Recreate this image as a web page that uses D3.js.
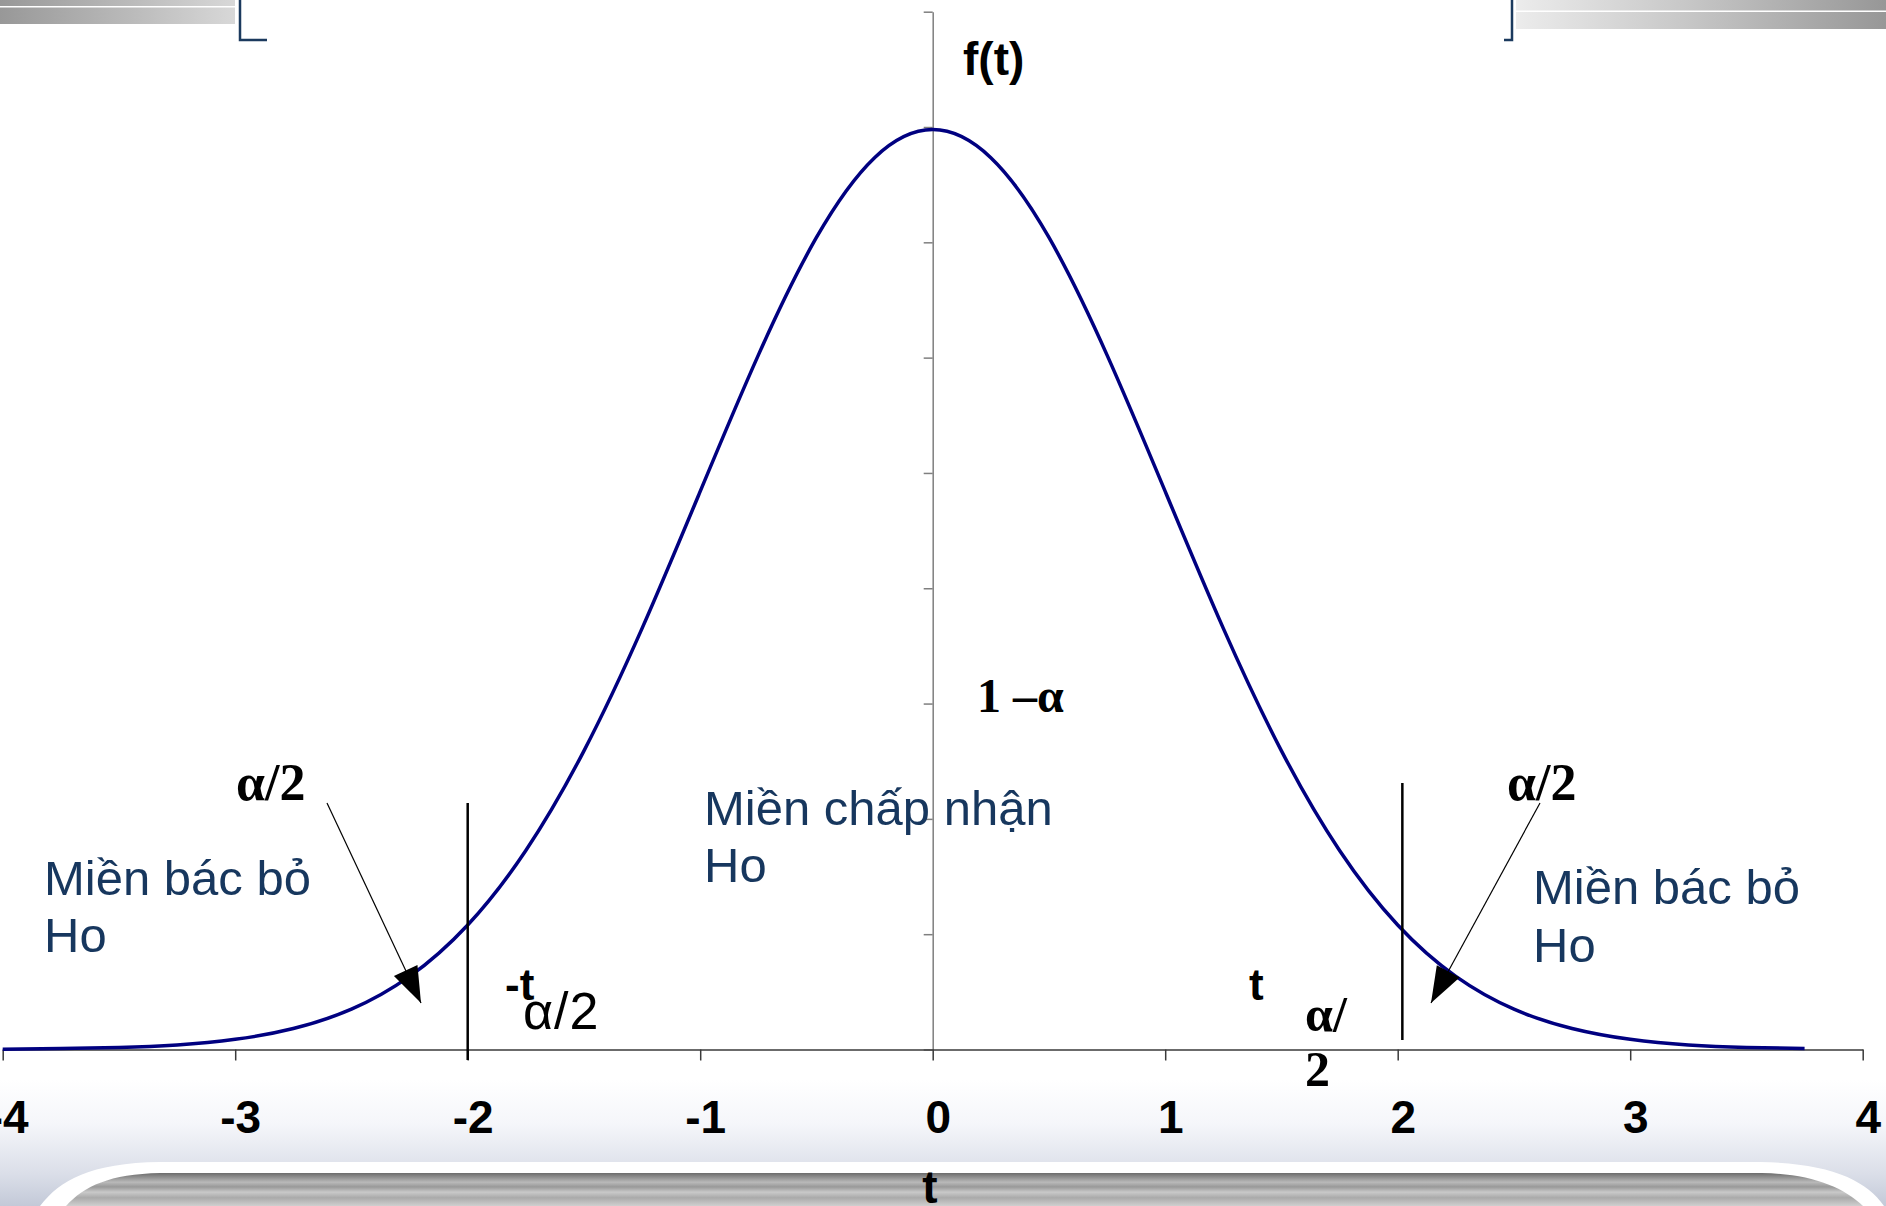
<!DOCTYPE html>
<html>
<head>
<meta charset="utf-8">
<script src="https://cdn.jsdelivr.net/npm/d3@7"></script>
<style>
  body { margin: 0; background: #fff; }
  svg { display: block; }
</style>
</head>
<body>
<div id="container"></div>
<script>
// density curve
const tValues = [-4, -3.75, -3.5, -3.25, -3, -2.75, -2.5, -2.25, -2, -1.75, -1.5, -1.25, -1, -0.75, -0.5, -0.25,
  0, 0.25, 0.5, 0.75, 1, 1.25, 1.5, 1.75, 2, 2.25, 2.5, 2.75, 3, 3.25, 3.5, 3.75];
const fValues = [0.0001, 0.0004, 0.0009, 0.002, 0.0044, 0.0091, 0.0175, 0.0317, 0.054, 0.0863, 0.1295, 0.1826, 0.242, 0.3011, 0.3521, 0.3867,
  0.3989, 0.3867, 0.3521, 0.3011, 0.242, 0.1826, 0.1295, 0.0863, 0.054, 0.0317, 0.0175, 0.0091, 0.0044, 0.002, 0.0009, 0.0004];
const xTicks = [-4, -3, -2, -1, 0, 1, 2, 3, 4];
const yTicks = [0, 0.05, 0.1, 0.15, 0.2, 0.25, 0.3, 0.35, 0.4, 0.45];
// critical values
const critLeft = -2, critRight = 2.02;

const W = 1886, H = 1206;
const svg = d3.select("#container").append("svg")
    .attr("width", W).attr("height", H);

const defs = svg.append("defs");
function grad(id, x2, y2, stops) {
  const g = defs.append("linearGradient").attr("id", id)
      .attr("x1", 0).attr("y1", 0).attr("x2", x2).attr("y2", y2);
  stops.forEach(s => g.append("stop").attr("offset", s[0]).attr("stop-color", s[1]));
}
grad("barL", 1, 0, [[0, "#989898"], [0.6, "#bdbdbd"], [1, "#d8d8d8"]]);
grad("barR", 1, 0, [[0, "#ececec"], [0.45, "#c8c8c8"], [1, "#979797"]]);
grad("band", 0, 1, [[0, "#ffffff"], [0.35, "#f5f6fa"], [0.75, "#dadee8"], [1, "#c3c9d8"]]);
grad("panel", 0, 1, [[0, "#6c6c6c"], [0.12, "#8e8e8e"], [0.28, "#b9b9b9"], [0.42, "#999"], [0.58, "#c9c9c9"],
  [0.75, "#aaaaaa"], [1, "#cfcfcf"]]);

/* DECORATION */
svg.append("rect").attr("x", 0).attr("y", 0).attr("width", 235).attr("height", 24).attr("fill", "url(#barL)");
svg.append("rect").attr("x", 0).attr("y", 6).attr("width", 235).attr("height", 1.5).attr("fill", "#fff");
svg.append("rect").attr("x", 1516).attr("y", 0).attr("width", 370).attr("height", 29).attr("fill", "url(#barR)");
svg.append("rect").attr("x", 1516).attr("y", 10.5).attr("width", 370).attr("height", 1.5).attr("fill", "#fff");
svg.append("path").attr("d", "M240,0 V40 H267").attr("fill", "none").attr("stroke", "#1b3a5e").attr("stroke-width", 2.5);
svg.append("path").attr("d", "M1512,0 V40 H1504").attr("fill", "none").attr("stroke", "#1b3a5e").attr("stroke-width", 2.5);

svg.append("rect").attr("x", 0).attr("y", 1080).attr("width", W).attr("height", H - 1080).attr("fill", "url(#band)");
svg.append("path")
    .attr("d", "M40,1206 C60,1180 90,1163 160,1162 H1760 C1830,1163 1866,1180 1884,1206 Z")
    .attr("fill", "#fff");
svg.append("path")
    .attr("d", "M66,1206 C84,1186 110,1174 160,1173 H1762 C1810,1174 1842,1186 1863,1206 Z")
    .attr("fill", "url(#panel)");

/* SCALES */
const xScale = d3.scaleLinear().domain([-4, 4]).range([2.7, 1862.7]);
const yScale = d3.scaleLinear().domain([0, 0.45]).range([1049.5, 11.7]);

/* AXES */
const yAxis = svg.append("g")
    .attr("transform", `translate(${xScale(0)},0)`)
    .call(d3.axisLeft(yScale).tickValues(yTicks).tickSize(9).tickSizeOuter(0).tickFormat(""));
yAxis.selectAll("path, line").attr("stroke", "#7f7f7f").attr("stroke-width", 1.5);

const xAxis = svg.append("g")
    .attr("transform", `translate(0,${yScale(0)})`)
    .call(d3.axisBottom(xScale).tickValues(xTicks).tickSize(11).tickSizeOuter(0).tickFormat(d => String(d)));
xAxis.selectAll("path, line").attr("stroke", "#3a3a3a").attr("stroke-width", 1.5);
xAxis.selectAll("text")
    .attr("y", 83.5).attr("dy", 0).attr("dx", 5)
    .attr("fill", "#000")
    .style("font-family", "'Liberation Sans', Arial, sans-serif")
    .style("font-size", "46px").style("font-weight", "bold");

/* CURVE */
const line = d3.line()
    .x((d, i) => xScale(tValues[i]))
    .y(d => yScale(d))
    .curve(d3.curveNatural);
svg.append("path").datum(fValues)
    .attr("d", line)
    .attr("fill", "none")
    .attr("stroke", "#000080")
    .attr("stroke-width", 3.5);

/* CRITICAL LINES */
svg.append("line")
    .attr("x1", xScale(critLeft)).attr("x2", xScale(critLeft))
    .attr("y1", 803).attr("y2", 1060)
    .attr("stroke", "#000").attr("stroke-width", 2.5);
svg.append("line")
    .attr("x1", xScale(critRight)).attr("x2", xScale(critRight))
    .attr("y1", 783).attr("y2", 1040)
    .attr("stroke", "#000").attr("stroke-width", 2.5);

/* ARROWS */
function arrow(x1, y1, x2, y2) {
  svg.append("line").attr("x1", x1).attr("y1", y1).attr("x2", x2).attr("y2", y2)
      .attr("stroke", "#000").attr("stroke-width", 1.2);
  const a = Math.atan2(y2 - y1, x2 - x1), len = 36, half = 13;
  const bx = x2 - len * Math.cos(a), by = y2 - len * Math.sin(a);
  const px = -Math.sin(a) * half, py = Math.cos(a) * half;
  svg.append("path")
      .attr("d", `M${x2},${y2} L${bx + px},${by + py} L${bx - px},${by - py} Z`)
      .attr("fill", "#000");
}
arrow(327, 803, 421, 1003);
arrow(1540, 803, 1431, 1003);

/* TEXT */
const sans = "'Liberation Sans', Arial, sans-serif";
const serif = "'Liberation Serif', 'Times New Roman', serif";
function label(x, y, txt, opts) {
  svg.append("text").attr("x", x).attr("y", y)
      .style("font-family", opts.family || sans)
      .style("font-size", (opts.size || 46) + "px")
      .style("font-weight", opts.bold ? "bold" : "normal")
      .style("letter-spacing", (opts.ls || 0) + "px")
      .attr("fill", opts.color || "#000")
      .text(txt);
}
label(963, 75, "f(t)", {bold: true});
label(977, 712, "1 \u2013\u03b1", {family: serif, size: 48, bold: true});
label(236, 800, "\u03b1/2", {family: serif, size: 52, bold: true});
label(1507, 800, "\u03b1/2", {family: serif, size: 52, bold: true});

const blue = "#17375e";
label(44, 895, "Miền bác bỏ", {size: 49, color: blue});
label(44, 952, "Ho", {size: 49, color: blue});
label(704, 825, "Miền chấp nhận", {size: 49, color: blue});
label(704, 882, "Ho", {size: 49, color: blue});
label(1533, 904, "Miền bác bỏ", {size: 49, color: blue});
label(1533, 962, "Ho", {size: 49, color: blue});

label(505, 1000, "-t", {bold: true, size: 44});
label(523, 1029, "\u03b1/2", {size: 52, ls: 1});
label(1249, 1000, "t", {bold: true, size: 44});
label(1305, 1031, "\u03b1/", {family: serif, size: 50, bold: true});
label(1305, 1086, "2", {family: serif, size: 50, bold: true});

svg.append("text").attr("x", 930).attr("y", 1203)
    .attr("text-anchor", "middle")
    .style("font-family", sans).style("font-size", "46px").style("font-weight", "bold")
    .text("t");
</script>
</body>
</html>
